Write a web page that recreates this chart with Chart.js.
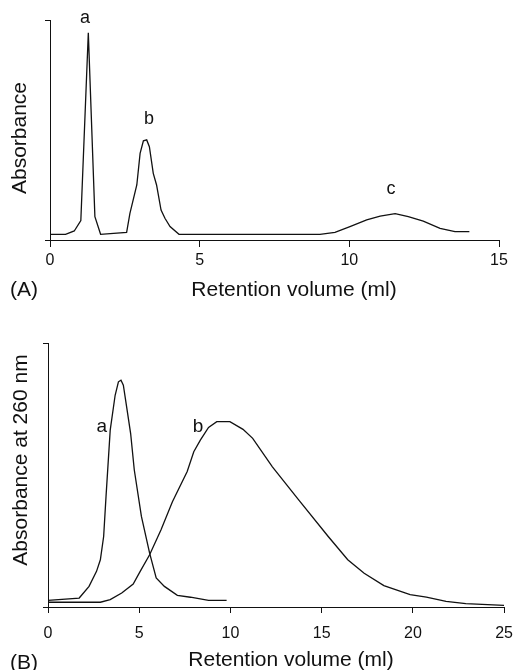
<!DOCTYPE html>
<html>
<head>
<meta charset="utf-8">
<script src="https://cdn.jsdelivr.net/npm/chart.js@4"></script>
<style>
  html, body { margin: 0; padding: 0; background: #fff; }
  .panel { position: absolute; left: 0; width: 524px; }
  #boxA { top: 0; height: 330px; }
  #boxB { top: 330px; height: 340px; }
</style>
</head>
<body>
<div class="panel" id="boxA"><canvas id="chartA"></canvas></div>
<div class="panel" id="boxB"><canvas id="chartB"></canvas></div>
<script>
// Panel A: retention volume (ml) vs absorbance (relative)
const volA = [0, 0.52, 0.81, 1.03, 1.28, 1.50, 1.69, 2.56, 2.67, 2.90, 3.01, 3.12, 3.23, 3.32, 3.45, 3.56, 3.71, 3.84, 4.01, 4.31,
              9.02, 9.52, 10.02, 10.58, 11.03, 11.53, 11.97, 12.47, 13.03, 13.53, 14.01];
const absA = [2.6, 2.6, 4.1, 8.8, 94.2, 10.6, 2.6, 3.5, 12.1, 25, 39.4, 45.1, 45.5, 42.4, 30.3, 25, 13.6, 9.9, 6.1, 2.6,
              2.6, 3.5, 6.1, 9.1, 10.9, 12.0, 10.6, 8.6, 5.3, 3.8, 3.8];
const xTicksA = [0, 5, 10, 15];
const peakNamesA = ['a', 'b', 'c'];
const peakXA = [1.17, 3.31, 11.39];
const peakYA = [101, 55, 23.2];

// Panel B: absorbance at 260 nm, two runs
const volBa = [0, 1.71, 2.25, 2.66, 2.87, 3.05, 3.18, 3.41, 3.68, 3.86, 4.0, 4.13, 4.31, 4.53, 4.73, 5.12, 5.57, 5.93, 6.38, 7.09, 7.81, 8.80, 9.79];
const absBa = [2.5, 3.4, 7.8, 13.5, 17.9, 26.7, 41.8, 67.0, 80.2, 85.3, 85.9, 84.0, 75.8, 65.7, 51.9, 34.3, 20.4, 11.0, 7.8, 4.4, 3.7, 2.5, 2.5];
const volBb = [0, 2.87, 3.41, 4.04, 4.67, 5.03, 5.57, 6.19, 6.82, 7.63, 7.99, 8.35, 8.80, 9.25, 9.97, 10.69, 11.22, 12.30, 13.74,
               15.36, 16.43, 17.33, 18.41, 19.85, 20.74, 21.82, 22.9, 25];
const absBb = [1.8, 1.8, 2.8, 5.3, 8.7, 13.2, 19.8, 29.2, 39.9, 51.3, 58.8, 63.2, 68.0, 70.2, 70.2, 67.3, 63.9, 53.1, 40.6,
               26.7, 17.9, 12.8, 8.1, 4.7, 3.7, 2.1, 1.3, 0.6];
const xTicksB = [0, 5, 10, 15, 20, 25];
const peakNamesB = ['a', 'b'];
const peakXB = [2.95, 8.22];
const peakYB = [68.3, 68.3];

const FONT = "'Liberation Sans', Arial, Helvetica, sans-serif";
const INK = '#111';

function toPoints(xs, ys) {
  return xs.map((x, i) => ({ x: x, y: ys[i] }));
}

const panelText = {
  id: 'panelText',
  afterDraw(chart, args, opts) {
    const ctx = chart.ctx;
    const xs = chart.scales.x, ys = chart.scales.y;
    ctx.save();
    ctx.fillStyle = INK;
    ctx.textAlign = 'center';
    ctx.textBaseline = 'middle';
    ctx.font = opts.peakFont + 'px ' + FONT;
    opts.names.forEach((n, i) => {
      ctx.fillText(n, xs.getPixelForValue(opts.px[i]), ys.getPixelForValue(opts.py[i]));
    });
    ctx.font = '21px ' + FONT;
    ctx.fillText(opts.xTitle, opts.xTitleAt[0], opts.xTitleAt[1]);
    ctx.textAlign = 'left';
    ctx.fillText(opts.tag, 10, opts.tagY);
    ctx.translate(opts.yTitleAt[0], opts.yTitleAt[1]);
    ctx.rotate(-Math.PI / 2);
    ctx.textAlign = 'center';
    ctx.fillText(opts.yTitle, 0, 0);
    ctx.restore();
  }
};

function makeChart(id, datasets, ticks, cfg) {
  const ctx = document.getElementById(id).getContext('2d');
  return new Chart(ctx, {
    type: 'scatter',
    data: { datasets: datasets.map((d) => ({
      data: d,
      showLine: true,
      borderColor: INK,
      borderWidth: 1.3,
      pointRadius: 0,
      tension: 0,
      fill: false
    })) },
    options: {
      responsive: true,
      maintainAspectRatio: false,
      animation: false,
      layout: { padding: { top: cfg.padTop, right: cfg.padRight, left: 0, bottom: 0 } },
      plugins: {
        legend: { display: false },
        tooltip: { enabled: false },
        panelText: cfg.text
      },
      scales: {
        x: {
          type: 'linear',
          min: ticks[0],
          max: ticks[ticks.length - 1],
          afterBuildTicks: (s) => { s.ticks = ticks.map((v) => ({ value: v })); },
          border: { display: true, color: INK, width: 1 },
          grid: { drawOnChartArea: false, drawTicks: true, tickLength: cfg.xTickLen, color: INK },
          ticks: { color: INK, font: { family: FONT, size: 16 }, padding: cfg.xTickPad, maxRotation: 0 },
          afterFit: (s) => { s.height = cfg.xHeight; }
        },
        y: {
          min: 0,
          max: 100,
          afterBuildTicks: (s) => { s.ticks = [{ value: 0 }, { value: 100 }]; },
          border: { display: true, color: INK, width: 1 },
          grid: { drawOnChartArea: false, drawTicks: true, tickLength: 5, color: INK },
          ticks: { display: false },
          afterFit: (s) => { s.width = cfg.yWidth; }
        }
      }
    },
    plugins: [panelText]
  });
}

makeChart('chartA', [toPoints(volA, absA)], xTicksA, {
  padTop: 20, padRight: 25, yWidth: 50, xHeight: 90, xTickLen: 7, xTickPad: 4,
  text: {
    names: peakNamesA, px: peakXA, py: peakYA, peakFont: 18,
    xTitle: 'Retention volume (ml)', xTitleAt: [294, 290],
    tag: '(A)', tagY: 290,
    yTitle: 'Absorbance', yTitleAt: [20, 138]
  }
});

makeChart('chartB', [toPoints(volBa, absBa), toPoints(volBb, absBb)], xTicksB, {
  padTop: 13, padRight: 12, yWidth: 48, xHeight: 63, xTickLen: 6, xTickPad: 11,
  text: {
    names: peakNamesB, px: peakXB, py: peakYB, peakFont: 19,
    xTitle: 'Retention volume (ml)', xTitleAt: [291, 330],
    tag: '(B)', tagY: 333,
    yTitle: 'Absorbance at 260 nm', yTitleAt: [21, 130]
  }
});
</script>
</body>
</html>
